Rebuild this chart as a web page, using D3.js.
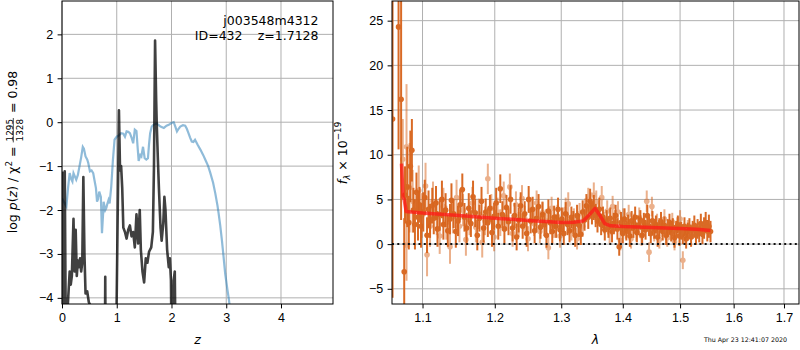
<!DOCTYPE html>
<html>
<head>
<meta charset="utf-8">
<script src="https://cdn.jsdelivr.net/npm/d3@7"></script>
<style>
    body { margin: 0; background: #fff; }
    svg { font-family: "DejaVu Sans", sans-serif; display: block; }
    .tick text { font-size: 12.5px; fill: #000; }
    .tick line { stroke: #000; stroke-width: 1; }
</style>
</head>
<body>
<svg id="canvas"></svg>
<script>
// left panel: redshift fit
const pzZ = [0.00, 0.01, 0.02, 0.03, 0.05, 0.06, 0.07, 0.10, 0.14, 0.16, 0.18, 0.21, 0.23, 0.25, 0.27, 0.29,
    0.31, 0.33, 0.35, 0.37, 0.39, 0.41, 0.43, 0.46, 0.49, 0.53, 0.56, 0.78, 0.79, 0.80, 0.98, 1.04, 1.06,
    1.08, 1.10, 1.12, 1.15, 1.18, 1.21, 1.24, 1.27, 1.30, 1.33, 1.36, 1.39, 1.42, 1.44, 1.47, 1.50, 1.53,
    1.56, 1.59, 1.63, 1.66, 1.68, 1.70, 1.72, 1.73, 1.75, 1.77, 1.80, 1.82, 1.85, 1.87, 1.89, 1.92, 1.95,
    1.97, 1.99, 2.01, 2.04, 2.06, 2.08];
const pzLog = [-6, -1.15, -2.5, -5, -1.12, -3.0, -5, -4.3, -3.4, -3.7, -3.5, -2.2, -3.4, -2.45, -3.5, -3.15,
    -3.3, -3.1, -3.4, -3.2, -1.25, -3.0, -3.9, -3.85, -4.1, -4.2, -6, -6, -3.52, -6, -6, 0.27, -1.1,
    -1.0, -1.5, -2.4, -2.5, -2.65, -2.45, -2.35, -2.6, -2.5, -2.85, -2.1, -2.76, -2.0, -2.9, -3.4, -3.65, -3.1,
    -3.2, -2.95, -2.85, -2.5, -1.0, 1.86, 0.5, -0.02, -0.8, -1.5, -2.4, -2.7, -2.3, -1.7, -2.0, -2.9, -3.3,
    -3.1, -3.6, -6, -3.6, -3.4, -6];

const chiZ = [0.00, 0.05, 0.08, 0.11, 0.14, 0.17, 0.19, 0.21, 0.24, 0.26, 0.29, 0.32, 0.35, 0.38, 0.40, 0.43,
    0.46, 0.48, 0.51, 0.54, 0.57, 0.59, 0.62, 0.64, 0.66, 0.68, 0.71, 0.73, 0.75, 0.76, 0.79, 0.81, 0.83,
    0.85, 0.87, 0.90, 0.93, 0.96, 1.00, 1.04, 1.08, 1.12, 1.15, 1.18, 1.21, 1.24, 1.27, 1.30, 1.33, 1.36,
    1.38, 1.40, 1.43, 1.45, 1.48, 1.51, 1.54, 1.57, 1.59, 1.61, 1.64, 1.67, 1.73, 1.80, 1.86, 1.91, 1.95,
    2.00, 2.04, 2.07, 2.10, 2.13, 2.16, 2.21, 2.25, 2.28, 2.31, 2.34, 2.37, 2.40, 2.43, 2.48, 2.53, 2.58,
    2.62, 2.67, 2.71, 2.76, 2.80, 2.84, 2.86, 2.89, 2.92, 2.95, 2.98, 3.02, 3.05, 3.10];
const chiVal = [-1.73, -1.85, -1.92, -1.5, -1.16, -1.3, -1.35, -1.16, -1.25, -1.31, -1.2, -1.0, -0.8, -0.56, -0.6, -0.78,
    -0.85, -0.93, -1.12, -1.1, -1.16, -1.3, -1.5, -1.81, -1.75, -1.58, -1.70, -2.53, -2.1, -1.81, -2.0, -1.95, -1.85,
    -1.77, -1.85, -1.46, -0.86, -0.40, -0.33, -0.3, -0.25, -0.26, -0.33, -0.21, -0.22, -0.25, -0.35, -0.48, -0.17, -0.2,
    -0.55, -0.88, -0.75, -0.78, -0.56, -0.82, -0.85, -0.82, -0.5, -0.25, -0.1, -0.06, -0.03, -0.1, -0.13, -0.08, -0.06,
    -0.02, 0.0, -0.1, -0.21, -0.15, -0.1, -0.07, -0.08, -0.15, -0.25, -0.35, -0.44, -0.45, -0.40, -0.52, -0.63, -0.75,
    -0.86, -1.0, -1.16, -1.38, -1.62, -1.9, -2.07, -2.35, -2.68, -3.05, -3.44, -3.8, -4.05, -4.6];

const zTicks = [0, 1, 2, 3, 4];
const pzTicks = [-4, -3, -2, -1, 0, 1, 2];

// right panel: 1D spectrum, two sets (dark / light)
const specLamA = [1.061, 1.0687, 1.072, 1.076, 1.077, 1.080, 1.082, 1.084, 1.086, 1.088, 1.090, 1.092, 1.094, 1.096, 1.098,
    1.101, 1.103, 1.106, 1.108, 1.110, 1.113, 1.115, 1.118, 1.120, 1.123, 1.126, 1.128, 1.131, 1.134, 1.137, 1.139,
    1.142, 1.145, 1.148, 1.151, 1.154, 1.157, 1.160, 1.163, 1.166, 1.169, 1.172, 1.175, 1.178, 1.181, 1.184, 1.187,
    1.190, 1.193, 1.196, 1.199, 1.202, 1.205, 1.208, 1.211, 1.214, 1.217, 1.220, 1.223, 1.226, 1.229, 1.232, 1.235,
    1.238, 1.241, 1.244, 1.247, 1.250, 1.253, 1.256, 1.259, 1.262, 1.265, 1.268, 1.271, 1.274, 1.277, 1.280, 1.283,
    1.286, 1.289, 1.292, 1.295, 1.298, 1.301, 1.304, 1.307, 1.310, 1.313, 1.316, 1.319, 1.322, 1.325, 1.328, 1.331,
    1.334, 1.337, 1.340, 1.343, 1.346, 1.349, 1.352, 1.355, 1.358, 1.361, 1.364, 1.367, 1.370, 1.373, 1.376, 1.379,
    1.382, 1.385, 1.388, 1.391, 1.394, 1.397, 1.400, 1.403, 1.406, 1.409, 1.412, 1.415, 1.418, 1.421, 1.424, 1.427,
    1.430, 1.433, 1.436, 1.439, 1.442, 1.445, 1.448, 1.451, 1.454, 1.457, 1.460, 1.463, 1.466, 1.469, 1.472, 1.475,
    1.478, 1.481, 1.484, 1.487, 1.490, 1.493, 1.496, 1.499, 1.502, 1.505, 1.508, 1.511, 1.514, 1.517, 1.520, 1.523,
    1.526, 1.529, 1.532, 1.535, 1.538, 1.541, 1.544, 1.547, 1.550, 1.553, 1.556];
const specFluxA = [14, 24.3, 16.2, -3.1, 5.5, 6.4, 2.4, 8.7, 10.5, 3.8, 2.2, 5.8, 3.0, 4.4, 2.0,
    3.6, 5.2, 1.0, 3.9, 2.6, 4.3, 2.9, 4.6, 1.7, 3.3, 5.0, 2.2, 3.8, 1.5, 2.8, 4.9,
    3.4, 1.4, 2.6, 4.4, 6.1, 3.0, 1.8, 4.0, 2.3, 5.3, 3.5, 1.0, 2.9, 4.8, 1.8, 3.6,
    2.4, 4.0, 1.3, 3.1, 4.6, 2.0, 6.2, 3.3, 1.7, 4.1, 2.5, 5.0, 1.8, 3.2, 0.8, 2.7,
    4.3, 2.0, 3.4, 1.2, 5.0, 2.6, 3.9, 1.5, 2.9, 4.2, 1.9, 3.3, 2.2, 1.0, 3.7, 2.4,
    1.4, 3.0, 2.0, 3.9, 1.6, 2.8, 1.2, 3.4, 2.2, 1.5, 3.0, 2.4, 1.0, 3.2, 2.1, 1.1,
    3.6, 2.7, 4.3, 3.0, 4.8, 3.5, 4.1, 3.2, 2.6, 3.9, 2.2, 3.0, 1.6, 2.6, 1.9, 2.9,
    1.4, 2.3, 3.2, 1.7, -0.3, 2.4, 1.2, 2.8, 1.5, 2.2, 0.9, 2.6, 1.8, 3.0, 1.3, 2.1,
    2.7, 1.0, 2.4, 1.6, 3.2, 2.0, 1.2, 2.6, 1.7, 2.2, 0.8, 1.9, 2.5, 1.4, 2.1, 1.0,
    1.8, 2.4, 1.3, 1.9, 0.7, 1.6, 2.2, 0.9, 1.5, 1.1, 2.0, 0.6, 1.4, 1.9, 0.8, 1.6,
    2.1, 1.0, 1.7, 1.3, 2.3, 1.1, 1.8, 2.4, 1.5, 2.0, 1.4];
const specErrA = [20, 13.7, 13.5, 6.0, 3.2, 4.5, 3.0, 4.0, 3.5, 2.5, 2.8, 2.2, 2.6, 2.0, 2.4,
    2.2, 2.0, 2.0, 2.1, 1.9, 2.0, 1.8, 1.9, 2.0, 1.8, 2.1, 1.7, 1.9, 1.8, 1.7, 1.9,
    1.6, 1.8, 1.7, 1.7, 1.8, 1.6, 1.7, 1.7, 1.5, 1.8, 1.6, 1.7, 1.5, 1.6, 1.6, 1.5,
    1.6, 1.5, 1.6, 1.5, 1.7, 1.5, 1.6, 1.5, 1.6, 1.4, 1.5, 1.6, 1.5, 1.4, 1.5, 1.4,
    1.5, 1.4, 1.4, 1.5, 1.5, 1.4, 1.4, 1.4, 1.3, 1.4, 1.3, 1.4, 1.3, 1.4, 1.3, 1.3,
    1.4, 1.3, 1.3, 1.3, 1.3, 1.3, 1.3, 1.3, 1.2, 1.3, 1.2, 1.3, 1.3, 1.2, 1.3, 1.2,
    1.3, 1.2, 1.3, 1.3, 1.4, 1.3, 1.4, 1.3, 1.3, 1.3, 1.2, 1.2, 1.2, 1.2, 1.2, 1.2,
    1.2, 1.2, 1.2, 1.2, 1.0, 1.2, 1.1, 1.2, 1.1, 1.1, 1.2, 1.1, 1.1, 1.2, 1.1, 1.1,
    1.1, 1.1, 1.1, 1.1, 1.2, 1.1, 1.1, 1.1, 1.1, 1.0, 1.1, 1.0, 1.1, 1.0, 1.0, 1.1,
    1.0, 1.0, 1.0, 1.0, 1.1, 1.0, 1.0, 1.1, 1.0, 1.1, 1.0, 1.1, 1.0, 1.0, 1.1, 1.0,
    1.1, 1.1, 1.1, 1.1, 1.1, 1.1, 1.2, 1.2, 1.2, 1.3, 1.2];

const specLamB = [1.0742, 1.079, 1.079, 1.083, 1.087, 1.095, 1.099, 1.104, 1.106, 1.110, 1.114, 1.119, 1.123, 1.128,
    1.132, 1.137, 1.141, 1.146, 1.150, 1.155, 1.159, 1.164, 1.168, 1.173, 1.177, 1.182, 1.186, 1.190, 1.195,
    1.199, 1.204, 1.208, 1.213, 1.217, 1.222, 1.226, 1.231, 1.235, 1.240, 1.244, 1.249, 1.253, 1.258, 1.262,
    1.267, 1.271, 1.276, 1.280, 1.285, 1.289, 1.294, 1.298, 1.303, 1.307, 1.311, 1.316, 1.320, 1.325, 1.329,
    1.334, 1.338, 1.343, 1.347, 1.352, 1.356, 1.360, 1.365, 1.369, 1.374, 1.378, 1.383, 1.387, 1.392, 1.396,
    1.401, 1.405, 1.410, 1.414, 1.419, 1.423, 1.428, 1.432, 1.437, 1.441, 1.445, 1.450, 1.454, 1.459, 1.463,
    1.468, 1.472, 1.477, 1.481, 1.486, 1.490, 1.495, 1.500, 1.505, 1.509, 1.514];
const specFluxB = [9.5, 10.9, -0.1, 6.3, 4.8, 6.0, 3.2, 6.5, -1.2, 2.0, 4.8, 3.0, 0.9, 4.2,
    2.4, -0.3, 3.1, 5.2, 2.0, 3.8, 0.5, 2.7, 4.6, 1.9, 3.4, 0.2, 2.6, 7.3, 4.0,
    0.8, 3.6, 2.4, 5.4, 3.0, 6.4, 1.2, 4.4, 2.2, 5.1, 2.9, 0.6, 3.8, 2.3, 4.6,
    1.4, 3.5, 2.6, -0.4, 4.0, 2.0, 3.1, 0.9, 2.5, 3.9, 4.5, 1.6, 2.8, 0.6, 3.4,
    2.0, 3.8, 5.0, 4.4, 5.5, 4.7, 3.3, 5.2, 2.4, 3.7, 1.3, 4.2, 2.6, 3.6, 0.4,
    2.9, 1.7, 3.3, 0.6, 2.3, 1.4, 3.0, 0.9, 2.1, 4.8, -0.9, 4.2, 1.3, 2.4, 0.5,
    1.8, 2.8, 0.7, 1.5, 2.5, 0.3, 2.0, 2.8, -1.8, 0.9, 1.7];
const specErrB = [4.5, 7.0, 4.0, 5.0, 3.5, 2.8, 2.5, 2.6, 2.4, 2.3, 2.2, 2.0, 2.0, 2.1,
    1.9, 1.9, 1.9, 2.0, 1.8, 1.8, 1.8, 1.7, 1.8, 1.7, 1.7, 1.7, 1.6, 1.7, 1.6,
    1.6, 1.6, 1.5, 1.6, 1.5, 1.5, 1.5, 1.5, 1.4, 1.5, 1.4, 1.4, 1.4, 1.4, 1.4,
    1.3, 1.3, 1.3, 1.3, 1.3, 1.3, 1.3, 1.3, 1.2, 1.3, 1.3, 1.2, 1.2, 1.2, 1.2,
    1.2, 1.3, 1.3, 1.4, 1.4, 1.3, 1.3, 1.3, 1.2, 1.2, 1.2, 1.2, 1.2, 1.2, 1.1,
    1.1, 1.1, 1.1, 1.1, 1.1, 1.1, 1.1, 1.1, 1.1, 1.2, 1.1, 1.1, 1.0, 1.0, 1.0,
    1.0, 1.1, 1.0, 1.0, 1.0, 1.0, 1.0, 1.0, 1.0, 1.0, 1.0];

const modelLam = [1.0725, 1.0745, 1.076, 1.0785, 1.100, 1.150, 1.200, 1.250, 1.300, 1.320, 1.335, 1.345, 1.354,
    1.362, 1.370, 1.380, 1.400, 1.450, 1.500, 1.530, 1.556];
const modelFlux = [9.0, 5.3, 5.0, 3.65, 3.47, 3.2, 2.9, 2.65, 2.42, 2.45, 2.6, 3.3, 4.0,
    3.2, 2.3, 2.05, 1.97, 1.85, 1.75, 1.65, 1.52];

const lamTicks = [1.1, 1.2, 1.3, 1.4, 1.5, 1.6, 1.7];
const fluxTicks = [-5, 0, 5, 10, 15, 20, 25];

const width = 800;
const height = 350;
const FS = 12.5;
const TICK = 4.4;
const DARK = "#d8631a";

const svg = d3.select("#canvas")
    .attr("width", width)
    .attr("height", height);

const L = { x0: 62, x1: 333, y0: 1, y1: 304 };
const R = { x0: 392, x1: 799, y0: 1, y1: 304 };

const xz = d3.scaleLinear().domain([0, 4.95]).range([L.x0, L.x1]);
const ypz = d3.scaleLinear().domain([-4.14, 2.76]).range([L.y1, L.y0]);
const xl = d3.scaleLog().domain([1.0603, 1.731]).range([R.x0, R.x1]);
const yf = d3.scaleLinear().domain([-6.7, 27.2]).range([R.y1, R.y0]);

const clip = (id, b) => {
    svg.append("clipPath").attr("id", id)
        .append("rect")
        .attr("x", b.x0).attr("y", b.y0)
        .attr("width", b.x1 - b.x0).attr("height", b.y1 - b.y0);
};
clip("clipL", L);
clip("clipR", R);

const drawGrid = (b, xs, ys, xt, yt) => {
    const g = svg.append("g").attr("stroke", "#b0b0b0").attr("stroke-width", 1);
    g.selectAll(".gx").data(xt).enter().append("line")
        .attr("x1", d => xs(d)).attr("x2", d => xs(d))
        .attr("y1", b.y0).attr("y2", b.y1);
    g.selectAll(".gy").data(yt).enter().append("line")
        .attr("x1", b.x0).attr("x2", b.x1)
        .attr("y1", d => ys(d)).attr("y2", d => ys(d));
};

const drawAxes = (b, xs, ys, xt, yt, xfmt) => {
    svg.append("g")
        .attr("transform", `translate(0,${b.y1})`)
        .call(d3.axisBottom(xs).tickValues(xt).tickFormat(xfmt).tickSize(TICK).tickPadding(4.4))
        .call(g => g.select(".domain").remove())
        .call(g => g.selectAll("text").attr("font-family", null).attr("font-size", null));
    svg.append("g")
        .attr("transform", `translate(${b.x0},0)`)
        .call(d3.axisLeft(ys).tickValues(yt).tickFormat(d3.format("d")).tickSize(TICK).tickPadding(4.4))
        .call(g => g.select(".domain").remove())
        .call(g => g.selectAll("text").attr("font-family", null).attr("font-size", null));
    svg.append("rect")
        .attr("x", b.x0).attr("y", b.y0)
        .attr("width", b.x1 - b.x0).attr("height", b.y1 - b.y0)
        .attr("fill", "none").attr("stroke", "#000").attr("stroke-width", 1);
};

// ---- left panel
drawGrid(L, xz, ypz, zTicks, pzTicks);

const lineL = svg.append("g").attr("clip-path", "url(#clipL)");
lineL.append("path")
    .datum(d3.zip(chiZ, chiVal))
    .attr("fill", "none")
    .attr("stroke", "#1f77b4")
    .attr("stroke-opacity", 0.5)
    .attr("stroke-width", 2.2)
    .attr("d", d3.line().x(d => xz(d[0])).y(d => ypz(d[1])));
lineL.append("path")
    .datum(d3.zip(pzZ, pzLog))
    .attr("fill", "none")
    .attr("stroke", "#000")
    .attr("stroke-opacity", 0.75)
    .attr("stroke-width", 2.6)
    .attr("stroke-linejoin", "round")
    .attr("d", d3.line().x(d => xz(d[0])).y(d => ypz(d[1])));

drawAxes(L, xz, ypz, zTicks, pzTicks, d3.format("d"));

svg.append("text").attr("x", 318.5).attr("y", 25).attr("text-anchor", "end")
    .attr("font-size", FS).text("j003548m4312");
svg.append("text").attr("x", 242.5).attr("y", 39.5).attr("text-anchor", "end")
    .attr("font-size", FS).text("ID=432");
svg.append("text").attr("x", 318.5).attr("y", 39.5).attr("text-anchor", "end")
    .attr("font-size", FS).text("z=1.7128");

svg.append("text").attr("x", (L.x0 + L.x1) / 2).attr("y", 344).attr("text-anchor", "middle")
    .attr("font-size", FS).attr("font-style", "italic").text("z");

// y label with a fraction
const yl = svg.append("g").attr("font-size", FS);
const part1 = yl.append("text").attr("x", 0).attr("y", 0);
part1.append("tspan").text("log ");
part1.append("tspan").attr("font-style", "italic").text("p");
part1.append("tspan").text("(");
part1.append("tspan").attr("font-style", "italic").text("z");
part1.append("tspan").text(")");
part1.append("tspan").attr("dx", 4).text("/");
part1.append("tspan").attr("dx", 4).text("χ");
part1.append("tspan").attr("font-size", 8.8).attr("dy", -5).text("2");
part1.append("tspan").attr("dy", 5).attr("dx", 4).text("=");
const w1 = part1.node().getComputedTextLength() + 16;
const num = yl.append("text").attr("x", w1 + 1).attr("y", -4.5).attr("font-size", 8.8).text("1295");
const fw = num.node().getComputedTextLength();
yl.append("text").attr("x", w1 + 1).attr("y", 5.5).attr("font-size", 8.8).text("1328");
yl.append("line").attr("x1", w1).attr("x2", w1 + fw + 2).attr("y1", -3.7).attr("y2", -3.7)
    .attr("stroke", "#000").attr("stroke-width", 0.7);
const part3 = yl.append("text").attr("x", w1 + fw + 7).attr("y", 0).text("= 0.98");
const wAll = w1 + fw + 7 + part3.node().getComputedTextLength();
yl.attr("transform", `translate(17,${152 + wAll / 2}) rotate(-90)`);

// ---- right panel
drawGrid(R, xl, yf, lamTicks, fluxTicks);

const spec = svg.append("g").attr("clip-path", "url(#clipR)");

const drawSpec = (lam, flux, err, opacity) => {
    const pts = lam.map((d, i) => ({ lam: d, f: flux[i], e: err[i] }));
    const g = spec.append("g").attr("opacity", opacity);
    g.selectAll("line").data(pts).enter().append("line")
        .attr("x1", d => xl(d.lam)).attr("x2", d => xl(d.lam))
        .attr("y1", d => yf(d.f - d.e)).attr("y2", d => yf(d.f + d.e))
        .attr("stroke", DARK).attr("stroke-width", 2);
    g.selectAll("circle").data(pts).enter().append("circle")
        .attr("cx", d => xl(d.lam)).attr("cy", d => yf(d.f))
        .attr("r", 2.8)
        .attr("fill", DARK);
};
drawSpec(specLamB, specFluxB, specErrB, 0.5);
drawSpec(specLamA, specFluxA, specErrA, 0.95);

spec.append("line")
    .attr("x1", R.x0).attr("x2", R.x1)
    .attr("y1", yf(0)).attr("y2", yf(0))
    .attr("stroke", "#111").attr("stroke-width", 2)
    .attr("stroke-dasharray", "2,3.3");

spec.append("path")
    .datum(d3.zip(modelLam, modelFlux))
    .attr("fill", "none")
    .attr("stroke", "#ff1a1a")
    .attr("stroke-opacity", 0.75)
    .attr("stroke-width", 3.5)
    .attr("stroke-linejoin", "round")
    .attr("d", d3.line().x(d => xl(d[0])).y(d => yf(d[1])));

drawAxes(R, xl, yf, lamTicks, fluxTicks, d3.format(".1f"));

svg.append("text").attr("x", (R.x0 + R.x1) / 2).attr("y", 344).attr("text-anchor", "middle")
    .attr("font-size", FS).attr("font-style", "italic").text("λ");

const yr = svg.append("text")
    .attr("transform", "translate(347,153) rotate(-90)")
    .attr("text-anchor", "middle")
    .attr("font-size", FS);
yr.append("tspan").attr("font-style", "italic").text("f");
yr.append("tspan").attr("font-style", "italic").attr("font-size", 8.8).attr("dy", 3).text("λ");
yr.append("tspan").attr("dy", -3).text(" × 10");
yr.append("tspan").attr("font-size", 8.8).attr("dy", -6).text("−19");

svg.append("text").attr("x", 787).attr("y", 342).attr("text-anchor", "end")
    .attr("font-size", 6.3).text("Thu Apr 23 12:41:07 2020");
</script>
</body>
</html>
